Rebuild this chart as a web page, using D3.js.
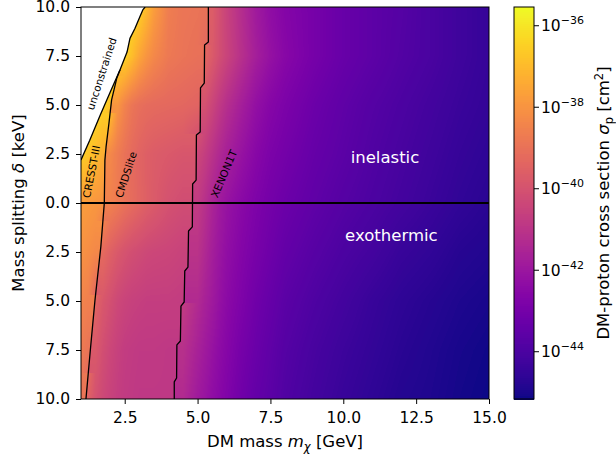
<!DOCTYPE html>
<html><head><meta charset="utf-8">
<script src="https://cdn.jsdelivr.net/npm/d3@7"></script>
<style>
body{margin:0;background:#fff}
svg{font-family:"DejaVu Sans",sans-serif}
</style>
</head><body>
<svg id="chart" width="616" height="456"></svg>
<script>
// ---------------- data ----------------
// DM mass grid nodes [GeV]
const massNodes = [1, 1.25, 1.5, 1.75, 2, 2.25, 2.5, 2.75, 3, 3.25, 3.5, 4, 4.5, 5, 5.25, 5.5, 5.75, 6, 6.5, 7, 7.5, 8, 9, 10, 11, 12, 13, 14, 15];
// mass splitting grid nodes [keV] (positive = inelastic, negative = exothermic)
const deltaNodes = [10, 7.5, 5, 2.5, 0, -2.5, -5, -7.5, -10];
// log10 of DM-proton cross section [cm^2], one row per delta node (null = unconstrained)
const logSigma_d10  = [null,null,null,null,null,null,null,-36.2,-36.4,-37.0,-37.7,-38.6,-38.85,-38.9,-38.95,-39.6,-40.05,-40.5,-41.2,-41.85,-42.3,-42.6,-42.95,-43.3,-43.55,-43.75,-44.0,-44.25,-44.45];
const logSigma_d7_5 = [null,null,null,null,null,-36.2,-36.4,-36.9,-37.5,-37.95,-38.3,-38.75,-38.9,-39.0,-39.3,-39.7,-40.1,-40.45,-41.1,-41.7,-42.15,-42.5,-42.95,-43.3,-43.55,-43.8,-44.0,-44.25,-44.45];
const logSigma_d5   = [null,null,-36.2,-36.4,-36.7,-37.9,-38.45,-38.85,-39.05,-39.15,-39.2,-39.25,-39.3,-39.4,-40.0,-40.4,-40.8,-41.15,-41.7,-42.2,-42.55,-42.8,-43.2,-43.5,-43.75,-43.95,-44.15,-44.35,-44.5];
const logSigma_d2_5 = [-36.5,-36.7,-37.0,-37.3,-38.3,-38.65,-38.95,-39.2,-39.4,-39.55,-39.65,-39.75,-39.85,-40.35,-40.65,-41.0,-41.35,-41.65,-42.1,-42.5,-42.8,-43.0,-43.35,-43.6,-43.85,-44.05,-44.25,-44.45,-44.6];
const logSigma_d0   = [-37.7,-37.8,-37.9,-38.0,-38.5,-38.7,-38.95,-39.15,-39.35,-39.55,-39.7,-40.0,-40.15,-40.75,-41.1,-41.5,-41.85,-42.1,-42.45,-42.75,-43.0,-43.2,-43.5,-43.75,-43.95,-44.15,-44.35,-44.55,-44.7];
const logSigma_dm2_5= [-38.0,-38.15,-38.3,-39.2,-39.5,-39.75,-39.95,-40.1,-40.2,-40.3,-40.35,-40.4,-40.5,-41.0,-41.35,-41.7,-42.0,-42.25,-42.6,-42.9,-43.15,-43.4,-43.7,-43.95,-44.15,-44.4,-44.55,-44.75,-44.85];
const logSigma_dm5  = [-38.4,-38.55,-39.4,-39.8,-40.05,-40.3,-40.45,-40.55,-40.6,-40.65,-40.65,-40.65,-40.7,-41.3,-41.6,-41.85,-42.15,-42.4,-42.75,-43.1,-43.35,-43.6,-43.9,-44.15,-44.4,-44.6,-44.75,-44.9,-45.0];
const logSigma_dm7_5= [-38.7,-38.9,-39.75,-40.1,-40.35,-40.55,-40.7,-40.75,-40.8,-40.8,-40.8,-40.85,-41.1,-41.6,-41.85,-42.1,-42.35,-42.55,-42.95,-43.25,-43.5,-43.75,-44.05,-44.3,-44.5,-44.7,-44.85,-45.0,-45.1];
const logSigma_dm10 = [-38.9,-39.5,-40.0,-40.3,-40.5,-40.65,-40.75,-40.8,-40.85,-40.85,-40.85,-40.85,-41.3,-41.85,-42.05,-42.3,-42.5,-42.7,-43.1,-43.4,-43.6,-43.85,-44.15,-44.4,-44.6,-44.8,-44.9,-45.05,-45.15];

// contour lines, [mass GeV, delta keV]
const unconstrainedEdge = [[1,2.2],[1.3,3.2],[1.65,4.45],[2.0,5.65],[2.34,6.8],[2.58,7.7],[2.68,8.4],[2.85,8.9],[3.02,9.5],[3.12,9.85],[3.2,10]];
const cresstCmdsEdge = [[2.34,6.8],[2.23,6.38],[2.05,5.26],[1.96,4.08],[1.86,2.86],[1.82,2.19],[1.80,0],[1.68,-2.24],[1.48,-4.95],[1.33,-7.35],[1.17,-10]];
const xenonEdge = [[5.37,10],[5.37,8.21],[5.24,8.06],[5.23,6.12],[5.10,5.87],[5.09,3.62],[4.96,3.47],[4.95,1.17],[4.83,0.97],[4.82,-1.22],[4.69,-1.43],[4.67,-3.27],[4.56,-3.47],[4.54,-5.05],[4.43,-5.26],[4.41,-7.04],[4.29,-7.24],[4.28,-8.93],[4.20,-9.13],[4.20,-10]];

// axes ticks
const xTicks = [2.5, 5, 7.5, 10, 12.5, 15];
const yTicks = [10, 7.5, 5, 2.5, 0, -2.5, -5, -7.5, -10];
const cbarTickExps = [-36, -38, -40, -42, -44];
const cbarRangeExp = [-45.16, -35.54];

// region labels
const regionLabels = [
  {text:"unconstrained", m:1.7, d:6.6, angle:-72},
  {text:"CRESST-III", m:1.35, d:1.6, angle:-79},
  {text:"CMDSlite", m:2.54, d:1.45, angle:-72},
  {text:"XENON1T", m:5.9, d:1.5, angle:-67}
];

// ---------------- drawing ----------------
const rows = [logSigma_d10, logSigma_d7_5, logSigma_d5, logSigma_d2_5, logSigma_d0, logSigma_dm2_5, logSigma_dm5, logSigma_dm7_5, logSigma_dm10];
const L = 81, R = 489, T = 7, B = 399;
const x = d3.scaleLinear().domain([1, 15]).range([L, R]);
const y = d3.scaleLinear().domain([-10, 10]).range([B, T]);
const color = d3.scaleSequential(d3.interpolatePlasma).domain(cbarRangeExp);

const svg = d3.select("#chart");
svg.append("defs").append("clipPath").attr("id", "plotClip")
  .append("rect").attr("x", L).attr("y", T).attr("width", R - L).attr("height", B - T);

// mass position of an edge at a given delta
function edgeMass(pts, d) {
  const s = pts.slice().sort((a, b) => a[1] - b[1]);
  if (d < s[0][1] || d > s[s.length - 1][1]) return null;
  for (let k = 0; k < s.length - 1; k++) {
    const [m0, d0] = s[k], [m1, d1] = s[k + 1];
    if (d >= d0 && d <= d1) return d1 === d0 ? m0 : m0 + (m1 - m0) * (d - d0) / (d1 - d0);
  }
  return null;
}
// value along one grid row at mass m; no blending across a region edge
function rowValue(row, m, edgesAtD) {
  let i = d3.bisectRight(massNodes, m) - 1;
  i = Math.max(0, Math.min(massNodes.length - 2, i));
  const a = row[i], b = row[i + 1];
  if (a === null) return b;
  if (b === null) return a;
  const m0 = massNodes[i], m1 = massNodes[i + 1];
  for (const e of edgesAtD) if (e > m0 && e < m1) return m < e ? a : b;
  const t = Math.max(0, Math.min(1, (m - m0) / (m1 - m0)));
  return a + (b - a) * t;
}

// heatmap (shaded grid, positioned by the scales)
const W = R - L, H = B - T;
const canvas = document.createElement("canvas");
canvas.width = W; canvas.height = H;
const ctx = canvas.getContext("2d");
const img = ctx.createImageData(W, H);
for (let py = 0; py < H; py++) {
  const d = y.invert(T + py + 0.5);
  const edgesAtD = [edgeMass(xenonEdge, d), edgeMass(cresstCmdsEdge, d)].filter(e => e !== null);
  let j = 0;
  while (j < deltaNodes.length - 2 && d < deltaNodes[j + 1]) j++;
  const dA = deltaNodes[j], dB = deltaNodes[j + 1];
  const tj = Math.max(0, Math.min(1, (dA - d) / (dA - dB)));
  for (let px = 0; px < W; px++) {
    const m = x.invert(L + px + 0.5);
    const va = rowValue(rows[j], m, edgesAtD), vb = rowValue(rows[j + 1], m, edgesAtD);
    let v = va === null ? vb : (vb === null ? va : va + (vb - va) * tj);
    const k = (py * W + px) * 4;
    if (v === null) { img.data[k] = img.data[k+1] = img.data[k+2] = 255; img.data[k+3] = 255; continue; }
    const c = d3.rgb(color(v));
    img.data[k] = c.r; img.data[k + 1] = c.g; img.data[k + 2] = c.b; img.data[k + 3] = 255;
  }
}
ctx.putImageData(img, 0, 0);

const plot = svg.append("g").attr("clip-path", "url(#plotClip)");
plot.append("image").attr("x", L).attr("y", T).attr("width", W).attr("height", H)
  .attr("preserveAspectRatio", "none").attr("href", canvas.toDataURL());

// unconstrained white region
const whitePoly = [[1, 10]].concat(unconstrainedEdge).concat([[3.2, 10]]);
const line = d3.line().x(p => x(p[0])).y(p => y(p[1]));
plot.append("path").attr("d", line(whitePoly) + "Z").attr("fill", "#fff");

[unconstrainedEdge, cresstCmdsEdge, xenonEdge].forEach(pts => {
  plot.append("path").attr("d", line(pts)).attr("fill", "none")
    .attr("stroke", "#000").attr("stroke-width", 1.3).attr("stroke-linejoin", "round");
});
plot.append("line").attr("x1", L).attr("x2", R).attr("y1", y(0)).attr("y2", y(0))
  .attr("stroke", "#000").attr("stroke-width", 2);

regionLabels.forEach(l => {
  svg.append("text").attr("transform", `translate(${x(l.m)},${y(l.d)}) rotate(${l.angle})`)
    .attr("text-anchor", "middle").attr("dominant-baseline", "central")
    .attr("font-size", 10.5).attr("fill", "#000").text(l.text);
});
svg.append("text").attr("x", x(11.43)).attr("y", y(2.04)).attr("text-anchor", "middle")
  .attr("font-size", 16.5).attr("fill", "#fff").text("inelastic");
svg.append("text").attr("x", x(11.65)).attr("y", y(-1.94)).attr("text-anchor", "middle")
  .attr("font-size", 16.5).attr("fill", "#fff").text("exothermic");

// axes
const xAxis = svg.append("g").attr("transform", `translate(0,${B})`)
  .call(d3.axisBottom(x).tickValues(xTicks).tickFormat(d3.format(".1f")).tickSize(5).tickPadding(7.5));
const yAxis = svg.append("g").attr("transform", `translate(${L},0)`)
  .call(d3.axisLeft(y).tickValues(yTicks).tickFormat(d => Math.abs(d).toFixed(1)).tickSize(5).tickPadding(6));
[xAxis, yAxis].forEach(g => {
  g.select(".domain").remove();
  g.selectAll("text").attr("font-size", 15.5).attr("font-family", "DejaVu Sans").attr("fill", "#000");
  g.selectAll("line").attr("stroke", "#000").attr("stroke-width", 1);
});
svg.append("rect").attr("x", L).attr("y", T).attr("width", R - L).attr("height", B - T)
  .attr("fill", "none").attr("stroke", "#000").attr("stroke-width", 1);

// axis labels
const xl = svg.append("text").attr("x", (L + R) / 2).attr("y", 447).attr("text-anchor", "middle").attr("font-size", 16.5);
xl.append("tspan").text("DM mass ");
xl.append("tspan").attr("font-style", "italic").text("m");
xl.append("tspan").attr("font-style", "italic").attr("font-size", 11.5).attr("dy", 4).text("χ");
xl.append("tspan").attr("dy", -4).text(" [GeV]");

const yl = svg.append("text").attr("transform", `translate(24,${(T + B) / 2}) rotate(-90)`).attr("text-anchor", "middle").attr("font-size", 16.5);
yl.append("tspan").text("Mass splitting ");
yl.append("tspan").attr("font-style", "italic").text("δ");
yl.append("tspan").text(" [keV]");

// colorbar
const CL = 514, CR = 534;
const cy = d3.scaleLinear().domain(cbarRangeExp).range([B, T]);
const nSteps = 196;
const steps = d3.range(nSteps).map(i => cbarRangeExp[0] + (cbarRangeExp[1] - cbarRangeExp[0]) * i / nSteps);
const dStep = (cbarRangeExp[1] - cbarRangeExp[0]) / nSteps;
svg.append("g").selectAll("rect").data(steps).join("rect")
  .attr("x", CL).attr("width", CR - CL)
  .attr("y", v => cy(v + dStep)).attr("height", v => cy(v) - cy(v + dStep) + 0.6)
  .attr("fill", v => color(v + dStep / 2)).attr("shape-rendering", "crispEdges");
svg.append("rect").attr("x", CL).attr("y", T).attr("width", CR - CL).attr("height", B - T)
  .attr("fill", "none").attr("stroke", "#000").attr("stroke-width", 1);
const cg = svg.append("g");
cbarTickExps.forEach(e => {
  const yy = cy(e);
  cg.append("line").attr("x1", CR).attr("x2", CR + 5).attr("y1", yy).attr("y2", yy).attr("stroke", "#000");
  const t = cg.append("text").attr("x", CR + 7).attr("y", yy + 5.5).attr("font-size", 15.5);
  t.append("tspan").text("10");
  t.append("tspan").attr("font-size", 11).attr("dy", -7).text("\u2212" + Math.abs(e));
});
const cl = svg.append("text").attr("transform", `translate(609,${(T + B) / 2}) rotate(-90)`).attr("text-anchor", "middle").attr("font-size", 16.5);
cl.append("tspan").text("DM-proton cross section ");
cl.append("tspan").attr("font-style", "italic").text("σ");
cl.append("tspan").attr("font-size", 11.5).attr("dy", 4).text("p");
cl.append("tspan").attr("dy", -4).text(" [cm");
cl.append("tspan").attr("font-size", 11.5).attr("dy", -6).text("2");
cl.append("tspan").attr("dy", 6).text("]");
</script>
</body></html>
